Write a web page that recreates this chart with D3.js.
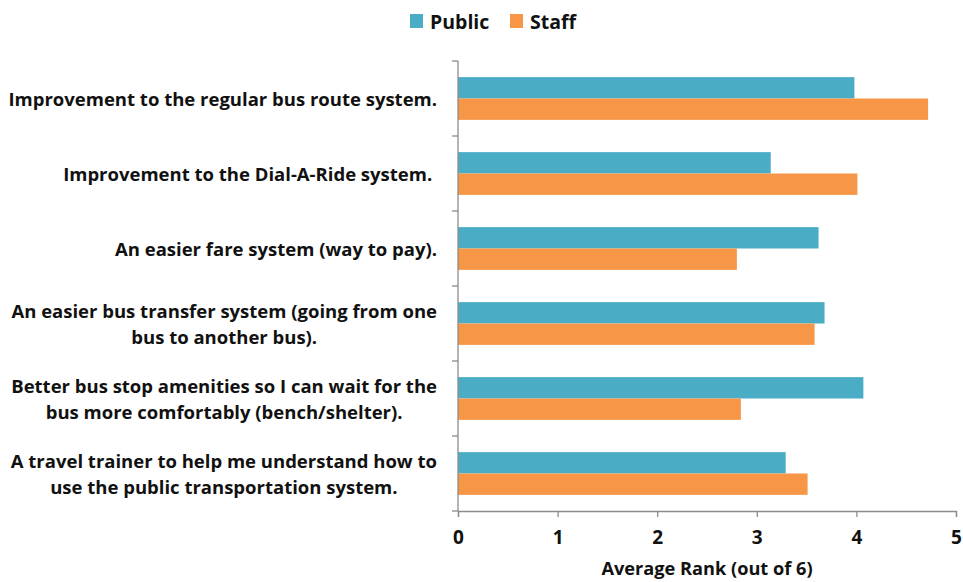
<!DOCTYPE html>
<html>
<head>
<meta charset="utf-8">
<script src="https://cdn.jsdelivr.net/npm/d3@7"></script>
<style>
  html, body { margin: 0; padding: 0; background: #fff; }
  svg text { font-family: "Open Sans", Lato, sans-serif; font-weight: 700; fill: #111; }
</style>
</head>
<body>
<svg id="chart" width="963" height="582"></svg>
<script>
// Survey items, each split into the lines shown beside the bars
const categories = [
  ["Improvement to the regular bus route system."],
  ["Improvement to the Dial-A-Ride system. "],
  ["An easier fare system (way to pay)."],
  ["An easier bus transfer system (going from one", "bus to another bus)."],
  ["Better bus stop amenities so I can wait for the", "bus more comfortably (bench/shelter)."],
  ["A travel trainer to help me understand how to", "use the public transportation system."]
];
const seriesNames = ["Public", "Staff"];
const publicValues = [3.98, 3.14, 3.62, 3.68, 4.07, 3.29];
const staffValues  = [4.72, 4.01, 2.80, 3.58, 2.84, 3.51];
const xTicks = [0, 1, 2, 3, 4, 5];
const axisTitle = "Average Rank (out of 6)";
const colors = ["#4BACC6", "#F79646"];

const svg = d3.select("#chart");
const margin = { left: 458, right: 7, top: 61, bottom: 71 };
const W = 963, H = 582;
const axisColor = "#8c8c8c";

const x = d3.scaleLinear().domain([0, 5]).range([margin.left, W - margin.right]);
const y = d3.scaleBand().domain(d3.range(categories.length))
  .range([margin.top, H - margin.bottom]).paddingInner(0.43).paddingOuter(0.215);
const sub = d3.scaleBand().domain(seriesNames).range([0, y.bandwidth()]);

const rows = categories.map((c, i) => ({ i, values: [publicValues[i], staffValues[i]] }));

// Bars
const g = svg.append("g");
rows.forEach(r => {
  g.selectAll(null).data(seriesNames).join("rect")
    .attr("x", x(0))
    .attr("y", (s) => y(r.i) + sub(s))
    .attr("height", sub.bandwidth())
    .attr("width", (s, k) => x(r.values[k]) - x(0))
    .attr("fill", (s, k) => colors[k]);
});

// Category axis: line with outside ticks at band boundaries
const yStep = y.step();
const boundaries = d3.range(categories.length + 1).map(i => margin.top + i * yStep);
svg.append("line").attr("x1", x(0)).attr("x2", x(0))
  .attr("y1", margin.top).attr("y2", H - margin.bottom)
  .attr("stroke", axisColor).attr("stroke-width", 1.3);
svg.selectAll(".ytick").data(boundaries).join("line")
  .attr("x1", x(0) - 6).attr("x2", x(0)).attr("y1", d => d).attr("y2", d => d)
  .attr("stroke", axisColor).attr("stroke-width", 1.3);

// Value axis
const xAxis = svg.append("g").attr("transform", `translate(0,${H - margin.bottom})`)
  .call(d3.axisBottom(x).tickValues(xTicks).tickSize(6).tickPadding(14).tickFormat(d3.format("d")));
xAxis.select(".domain").attr("stroke", axisColor).attr("stroke-width", 1.3);
xAxis.selectAll(".tick line").attr("stroke", axisColor).attr("stroke-width", 1.3);
xAxis.selectAll(".tick text").style("font-size", "19px").style("font-family", "'Open Sans', sans-serif")
  .style("font-weight", 700).attr("fill", "#111");

svg.append("text").attr("x", (x(0) + x(5)) / 2).attr("y", 575)
  .attr("text-anchor", "middle").style("font-size", "18.2px").text(axisTitle);

// Category labels: block right-aligned, lines centred within the block
const labelRight = 437, lineGap = 26.5;
rows.forEach(r => {
  const lines = categories[r.i];
  const cy = y(r.i) + y.bandwidth() / 2;
  const t = svg.append("g");
  const texts = t.selectAll("text").data(lines).join("text")
    .style("font-size", "18.5px").style("white-space", "pre")
    .attr("text-anchor", "middle")
    .attr("dominant-baseline", "central")
    .attr("y", (d, k) => cy + (k - (lines.length - 1) / 2) * lineGap)
    .text(d => d);
  const maxW = d3.max(texts.nodes(), n => n.getComputedTextLength());
  texts.attr("x", labelRight - maxW / 2);
});

// Legend
const legend = svg.append("g");
const legendX = [410, 510];
seriesNames.forEach((s, k) => {
  legend.append("rect").attr("x", legendX[k]).attr("y", 14).attr("width", 13).attr("height", 14).attr("fill", colors[k]);
  legend.append("text").attr("x", legendX[k] + 20).attr("y", 21).attr("dominant-baseline", "central")
    .style("font-size", "19.5px").text(s);
});
</script>
</body>
</html>
